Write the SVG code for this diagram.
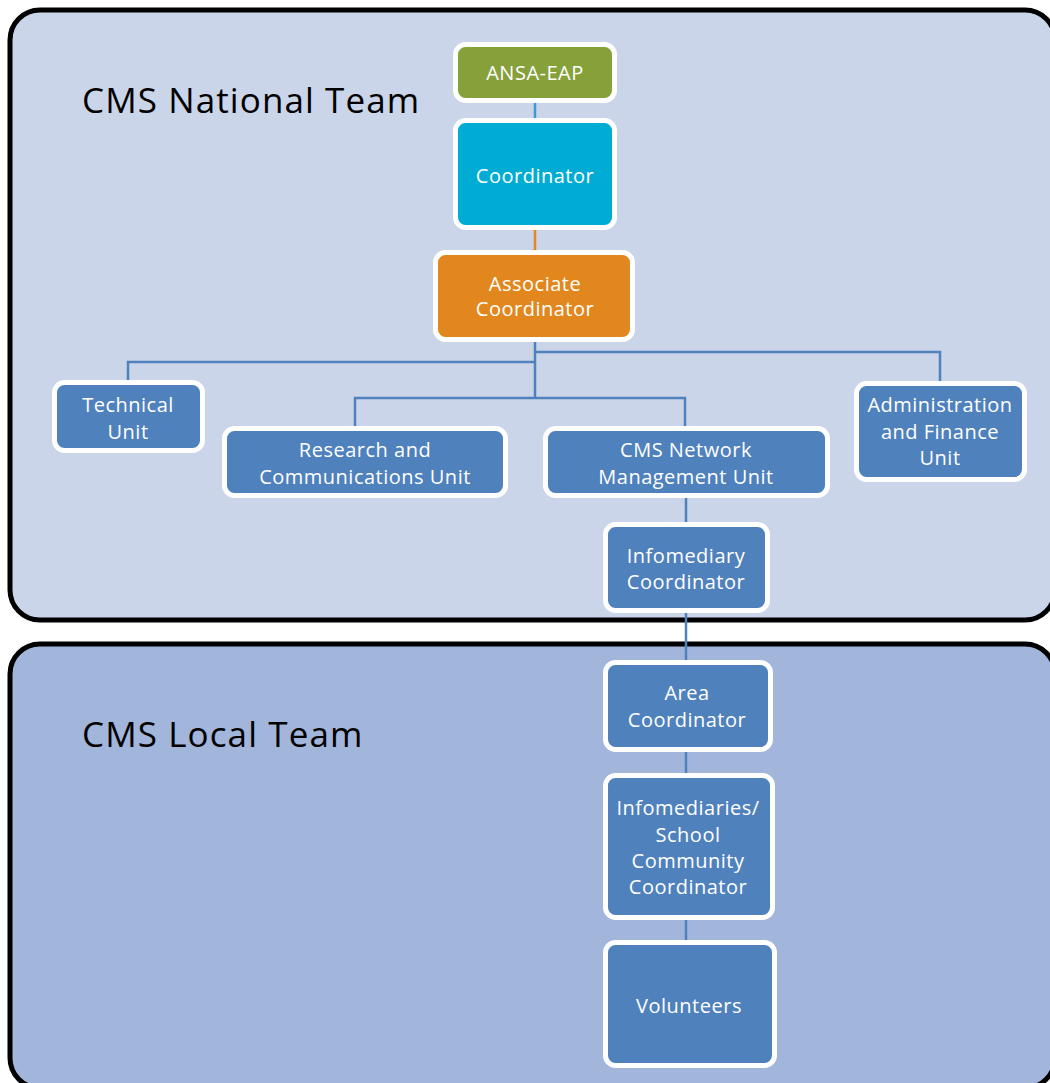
<svg xmlns="http://www.w3.org/2000/svg" width="1050" height="1083" viewBox="0 0 1050 1083">
<style>
.panel{stroke:#000;stroke-width:5}
.node rect{stroke:#fff;stroke-width:5}
.blue rect{fill:#4F81BD}
.node text{font-family:"Open Sans","Liberation Sans",sans-serif;font-size:20px;letter-spacing:0.5px;fill:#fff;text-anchor:middle}
.title{font-family:"Open Sans","Liberation Sans",sans-serif;font-size:35px;letter-spacing:1.1px;fill:#000}
.conn path{fill:none;stroke:#4F81BD;stroke-width:2.5}
</style>
<rect width="1050" height="1083" fill="#fff"/>
<g id="panel-national">
<rect class="panel" x="10" y="10" width="1045" height="610" rx="30" fill="#CBD5E9"/>
<text class="title" x="82" y="113">CMS National Team</text>
</g>
<g id="panel-local">
<rect class="panel" x="10" y="644" width="1045" height="444" rx="30" fill="#A2B5DB"/>
<text class="title" x="82" y="747">CMS Local Team</text>
</g>
<g id="connectors" class="conn">
<path d="M535 103V120" style="stroke:#3D9AD1"/>
<path d="M535 228V252" style="stroke:#E1871E"/>
<path d="M535 340V398"/>
<path d="M128 381V362H535"/>
<path d="M535 352H940V382"/>
<path d="M355 427V398H685V427"/>
<path d="M686 497V523"/>
<path d="M686 612V661"/>
<path d="M686 751V775"/>
<path d="M686 918V942"/>
</g>
<g id="n-ansa" class="node"><rect x="455.5" y="44.5" width="159" height="56" rx="10" fill="#86A03A"/><text x="535" y="80">ANSA-EAP</text></g>
<g id="n-coord" class="node"><rect x="455.5" y="120.5" width="159" height="107" rx="10" fill="#00ACD4"/><text x="535" y="183">Coordinator</text></g>
<g id="n-assoc" class="node"><rect x="435.5" y="252.5" width="197" height="87" rx="10" fill="#E1871E"/><text x="535" y="291">Associate</text><text x="535" y="316">Coordinator</text></g>
<g id="n-tech" class="node blue"><rect x="54.5" y="382.5" width="148" height="68" rx="10"/><text x="128" y="412">Technical</text><text x="128" y="439">Unit</text></g>
<g id="n-research" class="node blue"><rect x="224.5" y="428.5" width="281" height="67" rx="10"/><text x="365" y="457">Research and</text><text x="365" y="484">Communications Unit</text></g>
<g id="n-network" class="node blue"><rect x="545.5" y="428.5" width="282" height="67" rx="10"/><text x="686" y="457">CMS Network</text><text x="686" y="484">Management Unit</text></g>
<g id="n-admin" class="node blue"><rect x="856.5" y="383.5" width="168" height="96" rx="10"/><text x="940" y="412">Administration</text><text x="940" y="439">and Finance</text><text x="940" y="465">Unit</text></g>
<g id="n-infocoord" class="node blue"><rect x="605.5" y="524.5" width="162" height="86" rx="10"/><text x="686" y="563">Infomediary</text><text x="686" y="589">Coordinator</text></g>
<g id="n-area" class="node blue"><rect x="605.5" y="662.5" width="165" height="87" rx="10"/><text x="687" y="700">Area</text><text x="687" y="727">Coordinator</text></g>
<g id="n-infomediaries" class="node blue"><rect x="605.5" y="775.5" width="167" height="142" rx="10"/><text x="688" y="815">Infomediaries/</text><text x="688" y="842">School</text><text x="688" y="868">Community</text><text x="688" y="894">Coordinator</text></g>
<g id="n-volunteers" class="node blue"><rect x="605.5" y="942.5" width="169" height="123" rx="10"/><text x="689" y="1013">Volunteers</text></g>
</svg>
